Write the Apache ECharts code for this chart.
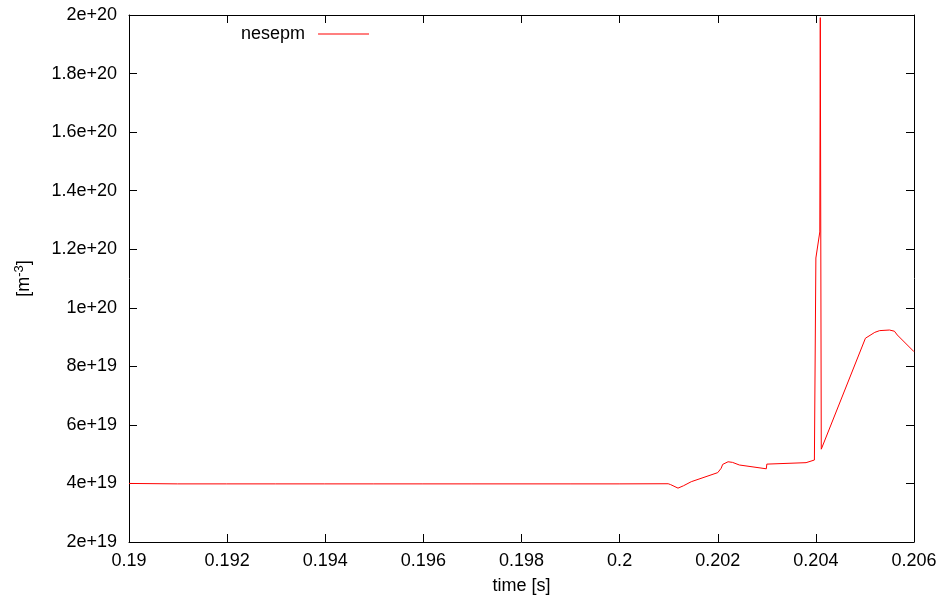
<!DOCTYPE html>
<html>
<head>
<meta charset="utf-8">
<script src="https://cdn.jsdelivr.net/npm/echarts@6/dist/echarts.min.js"></script>
<style>html,body{margin:0;padding:0;background:#fff}#c{width:946px;height:603px}</style>
</head>
<body>
<div id="c"></div>
<script>
const seriesName = 'nesepm';
const times = [
  0.19, 0.19099, 0.191, 0.19199, 0.192, 0.19299, 0.193, 0.19399, 0.194, 0.19499,
  0.195, 0.19599, 0.196, 0.19699, 0.197, 0.19799, 0.198, 0.19899, 0.199, 0.19999,
  0.2, 0.20099, 0.201, 0.20104, 0.20119, 0.2013, 0.20146, 0.2020, 0.20207, 0.2021,
  0.20221, 0.2023, 0.20244, 0.20299, 0.2030, 0.2038, 0.20397, 0.2040, 0.2040,
  0.20408, 0.20409, 0.20411, 0.20501, 0.2052, 0.2053, 0.2055, 0.2056, 0.20566, 0.206
];
const values = [
  4.0e19, 3.985e19, 4.005e19, 3.985e19, 4.005e19, 3.985e19, 4.005e19, 3.985e19, 4.005e19, 3.985e19,
  4.005e19, 3.985e19, 4.005e19, 3.985e19, 4.005e19, 3.985e19, 4.005e19, 3.985e19, 4.005e19, 3.985e19,
  4.01e19, 3.99e19, 3.99e19, 3.96e19, 3.84e19, 3.92e19, 4.06e19, 4.37e19, 4.52e19, 4.65e19,
  4.74e19, 4.72e19, 4.63e19, 4.50e19, 4.66e19, 4.71e19, 4.80e19, 4.80e19, 11.7e19,
  12.59e19, 19.91e19, 5.17e19, 8.96e19, 9.16e19, 9.22e19, 9.24e19, 9.20e19, 9.07e19, 8.50e19
];
const xMin = 0.19, xMax = 0.206, xStep = 0.002;
const yMin = 2e19, yMax = 2e20, yStep = 2e19;

const data = times.map((t, i) => [t, values[i]]);
const font = 'Liberation Sans';
const xFmt = v => String(+(+v).toFixed(4));
const yFmt = v => Number((+v).toPrecision(6)).toExponential();

const chart = echarts.init(document.getElementById('c'), null, {renderer: 'canvas'});
const axisCommon = {
  type: 'value',
  axisLine: {show: true, onZero: false, lineStyle: {color: '#000', width: 1}},
  axisTick: {show: true, inside: true, length: 8, lineStyle: {color: '#000', width: 1}},
  splitLine: {show: false}
};
chart.setOption({
  animation: false,
  backgroundColor: '#fff',
  grid: {left: 129, right: 32, top: 15, bottom: 61, containLabel: false},
  legend: {
    data: [seriesName], left: 236, top: 20, align: 'right',
    icon: 'rect', itemWidth: 51, itemHeight: 1.2,
    itemStyle: {color: '#ff0000'},
    textStyle: {fontFamily: font, fontSize: 18, color: '#000', padding: [0, 8, 0, 0]}
  },
  xAxis: [
    Object.assign({}, axisCommon, {
      min: xMin, max: xMax, interval: xStep, position: 'bottom',
      name: 'time [s]', nameLocation: 'middle', nameGap: 35,
      nameTextStyle: {fontFamily: font, fontSize: 18, color: '#000'},
      axisLabel: {formatter: xFmt, fontFamily: font, fontSize: 18, color: '#000', margin: 10}
    }),
    Object.assign({}, axisCommon, {
      min: xMin, max: xMax, interval: xStep, position: 'top',
      axisLabel: {show: false}
    })
  ],
  yAxis: [
    Object.assign({}, axisCommon, {
      min: yMin, max: yMax, interval: yStep, position: 'left',
      name: '[m{sup|-3}]', nameLocation: 'middle', nameGap: 94, nameRotate: 90,
      nameTextStyle: {fontFamily: font, fontSize: 18, color: '#000',
        rich: {sup: {fontFamily: font, fontSize: 13, color: '#000', padding: [0, 0, 9, 0]}}},
      axisLabel: {formatter: yFmt, fontFamily: font, fontSize: 18, color: '#000', margin: 12}
    }),
    Object.assign({}, axisCommon, {
      min: yMin, max: yMax, interval: yStep, position: 'right',
      axisLabel: {show: false}
    })
  ],
  series: [{
    name: seriesName, type: 'line', data: data, xAxisIndex: 0, yAxisIndex: 0,
    symbol: 'none', clip: true,
    lineStyle: {color: '#ff0000', width: 1},
    itemStyle: {color: '#ff0000'}
  }]
});
</script>
</body>
</html>
